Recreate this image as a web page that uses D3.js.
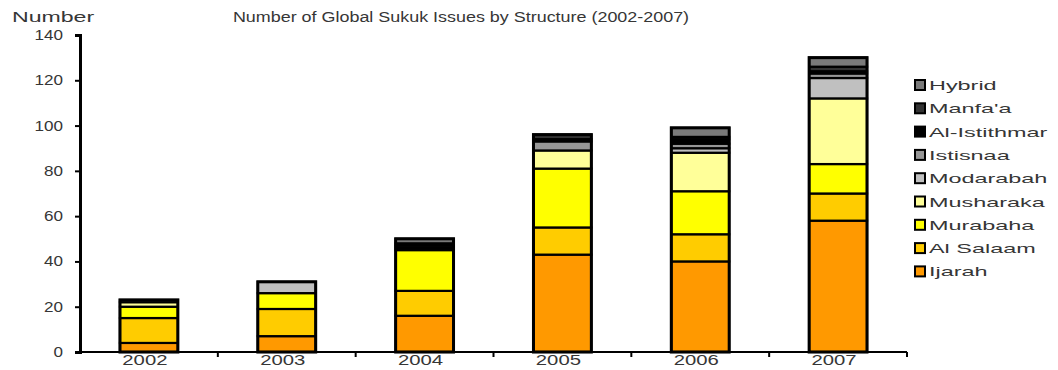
<!DOCTYPE html>
<html>
<head>
<meta charset="utf-8">
<script src="https://cdn.jsdelivr.net/npm/d3@7"></script>
<style>
  html, body { margin: 0; padding: 0; background: #fff; }
  svg { display: block; font-family: "Liberation Sans", Arial, sans-serif; }
</style>
</head>
<body>
<svg id="chart" width="1058" height="370"></svg>
<script>
// Number of sukuk issues per year, split by contract structure
const years = ["2002", "2003", "2004", "2005", "2006", "2007"];
const ijarah      = [4, 7, 16, 43, 40, 58];
const alSalaam    = [11, 12, 11, 12, 12, 12];
const murabaha    = [5, 7, 18, 26, 19, 13];
const musharaka   = [2, 0, 0, 8, 17, 29];
const modarabah   = [1, 5, 1, 0, 2, 9];
const istisnaa    = [0, 0, 1, 4, 2, 2];
const alIstithmar = [0, 0, 1, 1, 2, 1];
const manfaa      = [0, 0, 0, 2, 1, 2];
const hybrid      = [0, 0, 2, 0, 4, 4];

const structures = ["Ijarah", "Al Salaam", "Murabaha", "Musharaka", "Modarabah",
                    "Istisnaa", "Al-Istithmar", "Manfa'a", "Hybrid"];
const seriesValues = [ijarah, alSalaam, murabaha, musharaka, modarabah,
                      istisnaa, alIstithmar, manfaa, hybrid];
const colors = ["#ff9900", "#ffcc00", "#ffff00", "#ffff99", "#c0c0c0",
                "#969696", "#000000", "#333333", "#7a7a7a"];
const yTicks = [0, 20, 40, 60, 80, 100, 120, 140];

const rows = years.map((yr, i) => {
  const r = { year: yr };
  structures.forEach((s, j) => { r[s] = seriesValues[j][i]; });
  return r;
});

const svg = d3.select("#chart");
const textColor = "#363636";

const x = d3.scaleBand().domain(years).range([80, 907]).paddingInner(0.58).paddingOuter(0.29);
const y = d3.scaleLinear().domain([0, 140]).range([352, 35]);

// stretch text horizontally by a factor
function stretch(sel, k) {
  sel.each(function () {
    const w = this.getComputedTextLength();
    d3.select(this).attr("textLength", w * k).attr("lengthAdjust", "spacingAndGlyphs");
  });
}

// title
svg.append("text")
  .attr("x", 461).attr("y", 22)
  .attr("text-anchor", "middle")
  .attr("font-size", 14)
  .attr("fill", textColor)
  .text("Number of Global Sukuk Issues by Structure (2002-2007)")
  .call(stretch, 1.28);

// y axis title
svg.append("text")
  .attr("x", 12).attr("y", 22)
  .attr("font-size", 14)
  .attr("fill", textColor)
  .text("Number")
  .call(stretch, 1.65);

// stacked bars
const stack = d3.stack().keys(structures)(rows);
const gBars = svg.append("g");
stack.forEach((layer, li) => {
  gBars.selectAll(null)
    .data(layer.filter(d => d[1] - d[0] > 0))
    .join("rect")
    .attr("x", d => x(d.data.year))
    .attr("width", x.bandwidth())
    .attr("y", d => y(d[1]))
    .attr("height", d => y(d[0]) - y(d[1]))
    .attr("fill", colors[li])
    .attr("stroke", "#000")
    .attr("stroke-width", 2.2);
});
// outline of each full stack
gBars.selectAll(null)
  .data(rows)
  .join("rect")
  .attr("x", d => x(d.year))
  .attr("width", x.bandwidth())
  .attr("y", d => y(d3.sum(structures, s => d[s])))
  .attr("height", d => y(0) - y(d3.sum(structures, s => d[s])))
  .attr("fill", "none")
  .attr("stroke", "#000")
  .attr("stroke-width", 3);

// y axis
const yAxis = svg.append("g")
  .attr("transform", "translate(80,0)")
  .call(d3.axisLeft(y).tickValues(yTicks).tickSize(5).tickPadding(12));
yAxis.select(".domain").attr("stroke", "#000").attr("stroke-width", 3);
yAxis.selectAll(".tick line").attr("stroke", "#000").attr("stroke-width", 2);
yAxis.selectAll(".tick text")
  .attr("font-size", 14).attr("font-family", "Liberation Sans, Arial, sans-serif")
  .attr("fill", textColor)
  .call(stretch, 1.22);

// x axis with separator ticks between categories
const xAxisG = svg.append("g").attr("transform", "translate(0,352)");
xAxisG.append("line")
  .attr("x1", 80).attr("x2", 907)
  .attr("stroke", "#000").attr("stroke-width", 2);
const step = x.step();
xAxisG.selectAll("line.sep")
  .data(d3.range(1, years.length + 1))
  .join("line")
  .attr("class", "sep")
  .attr("x1", i => x(years[0]) - x.paddingOuter() * step + i * step)
  .attr("x2", i => x(years[0]) - x.paddingOuter() * step + i * step)
  .attr("y1", 0).attr("y2", 5)
  .attr("stroke", "#000").attr("stroke-width", 2);
xAxisG.selectAll("text")
  .data(years)
  .join("text")
  .attr("x", d => x(d) + x.bandwidth() / 2 - 4)
  .attr("y", 13)
  .attr("text-anchor", "middle")
  .attr("font-size", 14)
  .attr("fill", textColor)
  .text(d => d)
  .call(stretch, 1.45);

// legend, top entry is the last stacked series
const legend = svg.append("g").attr("transform", "translate(915,80)");
const legendItems = structures.map((s, i) => ({ name: s, color: colors[i] })).reverse();
const li = legend.selectAll("g")
  .data(legendItems)
  .join("g")
  .attr("transform", (d, i) => `translate(0,${i * 23.3})`);
li.append("rect")
  .attr("width", 10).attr("height", 10)
  .attr("fill", d => d.color)
  .attr("stroke", "#000").attr("stroke-width", 2);
li.append("text")
  .attr("x", 14).attr("y", 10)
  .attr("font-size", 13)
  .attr("fill", textColor)
  .text(d => d.name)
  .call(stretch, 1.8);
</script>
</body>
</html>
